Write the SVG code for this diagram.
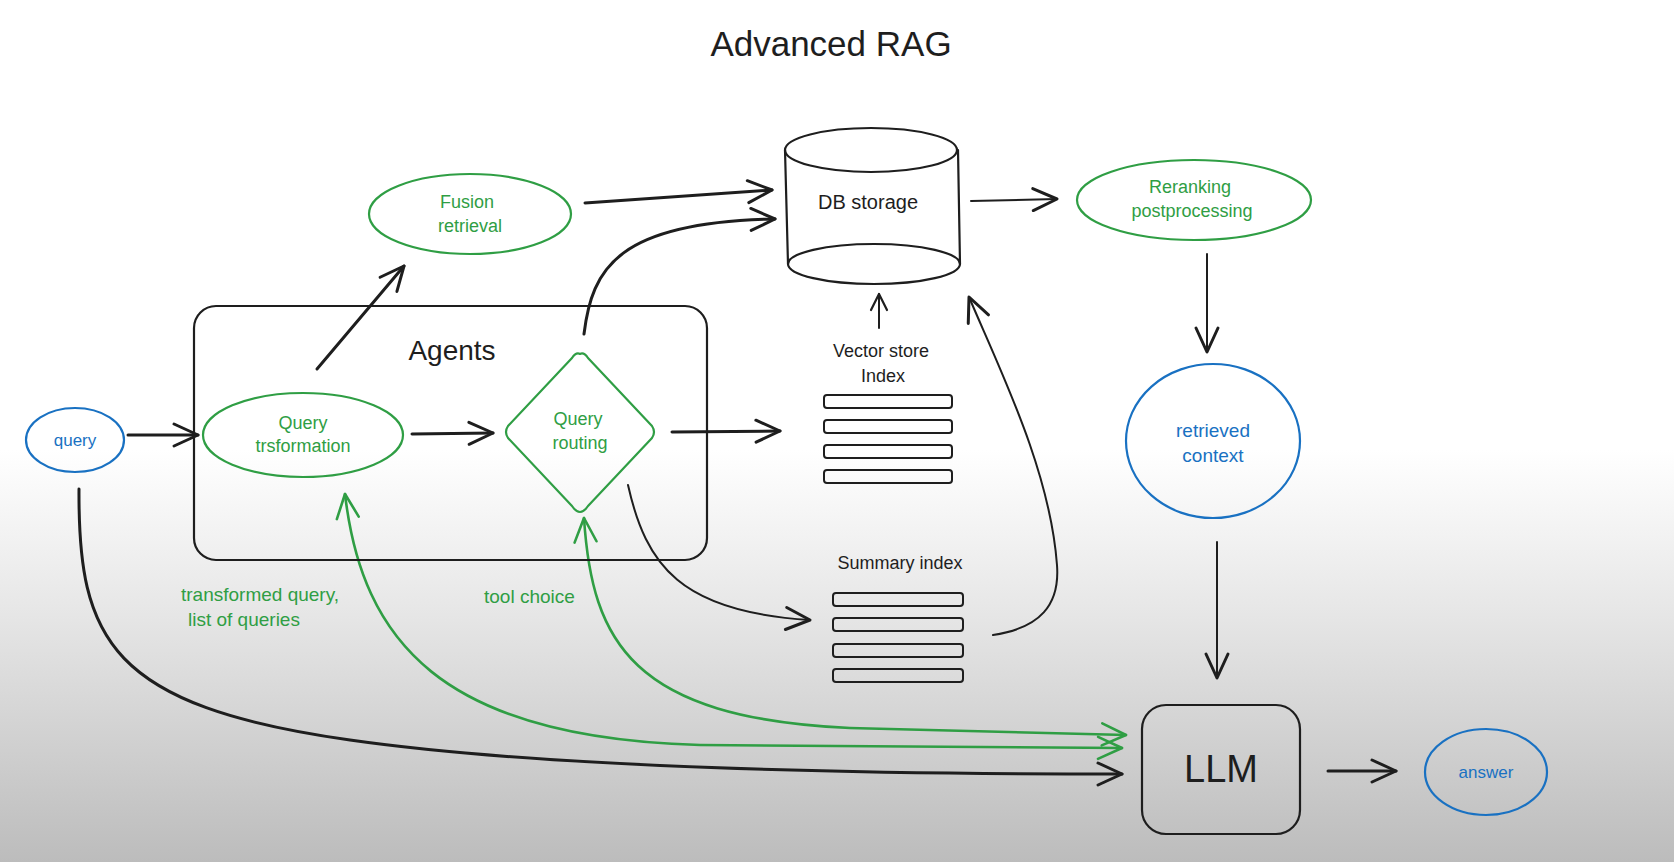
<svg xmlns="http://www.w3.org/2000/svg" width="1674" height="862" viewBox="0 0 1674 862">
<defs>
<linearGradient id="bg" gradientUnits="userSpaceOnUse" x1="0" y1="450" x2="0" y2="862">
<stop offset="0" stop-color="#ffffff"/>
<stop offset="0.4" stop-color="#e6e6e6"/>
<stop offset="1" stop-color="#bcbcbc"/>
</linearGradient>
<marker id="ab" viewBox="0 0 20 20" refX="18" refY="10" markerWidth="20" markerHeight="20" markerUnits="userSpaceOnUse" orient="auto-start-reverse">
<path d="M2,2 L18,10 L2,18" fill="none" stroke="#1e1e1e" stroke-width="2.2" stroke-linecap="round" stroke-linejoin="round"/>
</marker>
<marker id="abL" viewBox="0 0 30 30" refX="27" refY="15" markerWidth="30" markerHeight="30" markerUnits="userSpaceOnUse" orient="auto-start-reverse">
<path d="M3,4 L27,15 L3,26" fill="none" stroke="#1e1e1e" stroke-width="3" stroke-linecap="round" stroke-linejoin="round"/>
</marker>
<marker id="ag" viewBox="0 0 30 30" refX="27" refY="15" markerWidth="30" markerHeight="30" markerUnits="userSpaceOnUse" orient="auto-start-reverse">
<path d="M3,4 L27,15 L3,26" fill="none" stroke="#2f9e44" stroke-width="2.6" stroke-linecap="round" stroke-linejoin="round"/>
</marker>
</defs>
<style>
.t{font-family:"Liberation Sans","DejaVu Sans",sans-serif;text-anchor:middle}
.k{fill:#1e1e1e}
.g{fill:#2f9e44}
.b{fill:#1971c2}
.sk{fill:none;stroke:#1e1e1e;stroke-width:2.2;stroke-linecap:round;stroke-linejoin:round}
.sg{fill:none;stroke:#2f9e44;stroke-width:2.2}
.sb{fill:none;stroke:#1971c2;stroke-width:2.2}
.c{fill:none;stroke:#1e1e1e;stroke-width:2;stroke-linecap:round}
.cT{fill:none;stroke:#1e1e1e;stroke-width:3;stroke-linecap:round}
.cg{fill:none;stroke:#2f9e44;stroke-width:2.6;stroke-linecap:round}
.bar{fill:none;stroke:#1e1e1e;stroke-width:2}
.lbl{font-family:"Liberation Sans","DejaVu Sans",sans-serif;font-size:19px;fill:#2f9e44}
</style>
<rect x="0" y="0" width="1674" height="862" fill="url(#bg)"/>

<text class="t k" x="831" y="56" font-size="35">Advanced RAG</text>

<g id="connectors">
<path class="cT" d="M128,435 L198,435" marker-end="url(#abL)"/>
<path class="cT" d="M412,434 L493,433" marker-end="url(#abL)"/>
<path class="cT" d="M672,432 L780,431" marker-end="url(#abL)"/>
<path class="cT" d="M317,369 L404,266" marker-end="url(#abL)"/>
<path class="cT" d="M585,203 L772,190" marker-end="url(#abL)"/>
<path class="cT" d="M584,334 C592,268 618,222 775,219" marker-end="url(#abL)"/>
<path class="c" d="M971,201 L1057,199" marker-end="url(#abL)"/>
<path class="c" d="M879,328 L879,294" marker-end="url(#ab)"/>
<path class="c" d="M993,635 C1040,628 1060,605 1057,565 C1050,470 1000,370 969,297" marker-end="url(#abL)"/>
<path class="c" d="M628,485 C646,565 680,612 810,620" marker-end="url(#abL)"/>
<path class="c" d="M1207,254 L1207,352" marker-end="url(#abL)"/>
<path class="c" d="M1217,542 L1217,678" marker-end="url(#abL)"/>
<path class="cT" d="M1328,771 L1396,771" marker-end="url(#abL)"/>
<path class="cT" d="M79,489 C78,640 110,706 350,740 C560,770 900,774 1122,774" marker-end="url(#abL)"/>
<path class="cg" d="M345,494 C362,640 440,738 700,745 L1122,748" marker-start="url(#ag)" marker-end="url(#ag)"/>
<path class="cg" d="M584,518 C592,642 632,718 850,728 L1126,735" marker-start="url(#ag)" marker-end="url(#ag)"/>
<text class="lbl" x="181" y="601">transformed query,</text>
<text class="lbl" x="188" y="626">list of queries</text>
<text class="lbl" x="484" y="603">tool choice</text>
</g>

<g id="agents">
<rect class="sk" x="194" y="306" width="513" height="254" rx="22"/>
<text class="t k" x="452" y="360" font-size="28">Agents</text>
</g>

<g id="query">
<ellipse class="sb" cx="75" cy="440" rx="49" ry="32"/>
<text class="t b" x="75" y="446" font-size="17">query</text>
</g>

<g id="query-transformation">
<ellipse class="sg" cx="303" cy="435" rx="100" ry="42"/>
<text class="t g" x="303" y="429" font-size="18">Query</text>
<text class="t g" x="303" y="452" font-size="18">trsformation</text>
</g>

<g id="query-routing">
<path class="sg" stroke-linejoin="round" d="M580,354 Q584,352 588,358 L652,426 Q656,432 652,438 L588,506 Q584,512 580,512 Q576,512 572,506 L508,438 Q504,432 508,426 L572,358 Q576,352 580,354 Z"/>
<text class="t g" x="578" y="425" font-size="18">Query</text>
<text class="t g" x="580" y="449" font-size="18">routing</text>
</g>

<g id="fusion-retrieval">
<ellipse class="sg" cx="470" cy="214" rx="101" ry="40"/>
<text class="t g" x="467" y="208" font-size="18">Fusion</text>
<text class="t g" x="470" y="232" font-size="18">retrieval</text>
</g>

<g id="db-storage">
<path class="sk" d="M785,150 L788,264 M958,150 L960,264"/>
<ellipse class="sk" cx="871" cy="150" rx="86" ry="22"/>
<path class="sk" d="M788,264 A86,20 0 0 0 960,264 A86,20 0 0 0 788,264 Z"/>
<text class="t k" x="868" y="209" font-size="20">DB storage</text>
</g>

<g id="reranking">
<ellipse class="sg" cx="1194" cy="200" rx="117" ry="40"/>
<text class="t g" x="1190" y="193" font-size="18">Reranking</text>
<text class="t g" x="1192" y="217" font-size="18">postprocessing</text>
</g>

<g id="vector-store">
<text class="t k" x="881" y="357" font-size="18">Vector store</text>
<text class="t k" x="883" y="382" font-size="18">Index</text>
<rect class="bar" x="824" y="395" width="128" height="13" rx="3"/>
<rect class="bar" x="824" y="420" width="128" height="13" rx="3"/>
<rect class="bar" x="824" y="445" width="128" height="13" rx="3"/>
<rect class="bar" x="824" y="470" width="128" height="13" rx="3"/>
</g>

<g id="summary-index">
<text class="t k" x="900" y="569" font-size="18">Summary index</text>
<rect class="bar" x="833" y="593" width="130" height="13" rx="3"/>
<rect class="bar" x="833" y="618" width="130" height="13" rx="3"/>
<rect class="bar" x="833" y="644" width="130" height="13" rx="3"/>
<rect class="bar" x="833" y="669" width="130" height="13" rx="3"/>
</g>

<g id="retrieved-context">
<ellipse class="sb" cx="1213" cy="441" rx="87" ry="77"/>
<text class="t b" x="1213" y="437" font-size="19">retrieved</text>
<text class="t b" x="1213" y="462" font-size="19">context</text>
</g>

<g id="llm">
<rect class="sk" x="1142" y="705" width="158" height="129" rx="24"/>
<text class="t k" x="1221" y="782" font-size="38">LLM</text>
</g>

<g id="answer">
<ellipse class="sb" cx="1486" cy="772" rx="61" ry="43"/>
<text class="t b" x="1486" y="778" font-size="17">answer</text>
</g>
</svg>
